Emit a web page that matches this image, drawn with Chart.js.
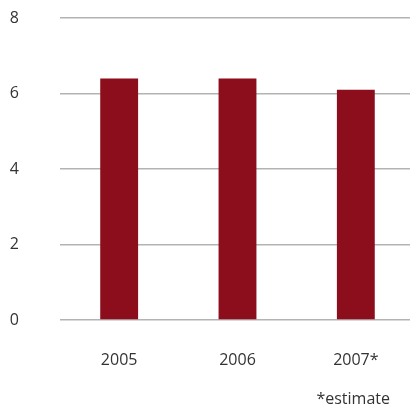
<!DOCTYPE html>
<html lang="en">
<head>
    <meta charset="UTF-8" />
    <title>Yearly values</title>
    <script src="https://cdn.jsdelivr.net/npm/chart.js"></script>
    <style>
        html, body { margin: 0; padding: 0; overflow: hidden; background: #fff; }
        #wrap { width: 416px; height: 409px; }
    </style>
</head>
<body>
<div id="wrap"><canvas id="barChart" width="416" height="409"></canvas></div>

<script>
    const years = ["2005", "2006", "2007*"];
    const values = [6.4, 6.4, 6.1];
    const yTicks = [0, 2, 4, 6, 8];
    const footnote = "*estimate";

    const labelFont = { family: "'Open Sans', sans-serif", size: 16 };
    const textColor = "#333333";

    // footnote under the last category
    const footnotePlugin = {
        id: "footnote",
        afterDraw(chart) {
            const ctx = chart.ctx;
            ctx.save();
            ctx.font = "16px 'Open Sans', sans-serif";
            ctx.fillStyle = textColor;
            ctx.textAlign = "right";
            ctx.textBaseline = "alphabetic";
            ctx.fillText(footnote, 390, 404);
            ctx.restore();
        }
    };

    new Chart(document.getElementById("barChart"), {
        type: "bar",
        data: {
            labels: years,
            datasets: [{
                data: values,
                backgroundColor: "#8c0d1b",
                barPercentage: 0.32,
                categoryPercentage: 1
            }]
        },
        options: {
            responsive: false,
            animation: false,
            layout: { padding: { top: 18, right: 1, bottom: 0, left: 0 } },
            plugins: {
                legend: { display: false },
                tooltip: { enabled: false }
            },
            scales: {
                x: {
                    grid: { display: false, drawTicks: false },
                    border: { display: false },
                    ticks: { color: textColor, font: labelFont, padding: 31 },
                    afterFit(scale) { scale.height = 89; }
                },
                y: {
                    min: 0,
                    max: 8,
                    afterBuildTicks(scale) {
                        scale.ticks = yTicks.map(v => ({ value: v }));
                    },
                    grid: { color: "#b3b3b3", lineWidth: 1.5, drawTicks: false },
                    border: { display: false },
                    ticks: { color: textColor, font: labelFont, padding: 41 },
                    afterFit(scale) {
                        // keep the wide label gap from pushing the plot down
                        scale.width = 60;
                        scale.paddingTop = 0;
                        scale.paddingBottom = 0;
                    }
                }
            }
        },
        plugins: [footnotePlugin]
    });
</script>
</body>
</html>
